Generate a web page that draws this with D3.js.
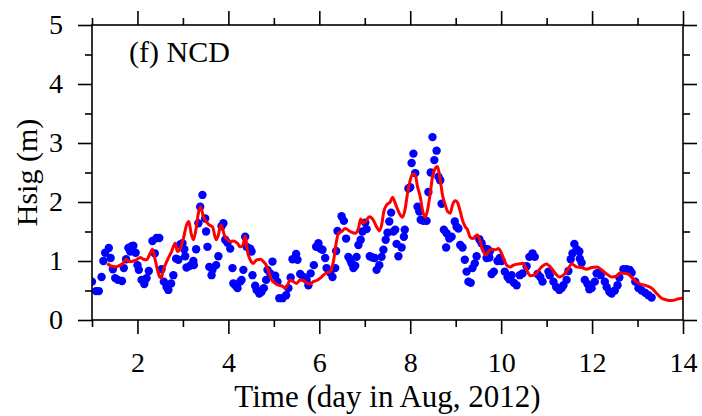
<!DOCTYPE html>
<html>
<head>
<meta charset="utf-8">
<script src="https://cdn.jsdelivr.net/npm/d3@7"></script>
<style>
  body { margin: 0; background: #fff; }
  svg text { font-family: "Liberation Serif", "Times New Roman", serif; fill: #000; }
</style>
</head>
<body>
<svg class="chart"></svg>
<script>
'use strict';

// observed Hsig (blue dots)
var obsDay = [
  1.00, 1.09, 1.15, 1.21, 1.25, 1.29, 1.37, 1.41, 1.46, 1.51, 1.57, 1.66, 1.70, 1.75, 1.80, 1.84,
  1.87, 1.91, 1.96, 2.00, 2.03, 2.09, 2.15, 2.17, 2.20, 2.25, 2.33, 2.38, 2.42, 2.48, 2.53, 2.58,
  2.64, 2.68, 2.74, 2.79, 2.85, 2.90, 2.94, 2.99, 3.03, 3.05, 3.08, 3.16, 3.23, 3.24, 3.29, 3.34,
  3.38, 3.43, 3.49, 3.51, 3.54, 3.58, 3.63, 3.65, 3.73, 3.78, 3.85, 3.89, 3.93, 3.98, 4.04, 4.09,
  4.11, 4.16, 4.20, 4.26, 4.29, 4.33, 4.37, 4.40, 4.48, 4.51, 4.53, 4.59, 4.62, 4.68, 4.73, 4.78,
  4.83, 4.86, 4.92, 4.97, 5.03, 5.08, 5.12, 5.19, 5.27, 5.32, 5.37, 5.41, 5.49, 5.52, 5.58, 5.65,
  5.72, 5.76, 5.81, 5.88, 5.93, 5.98, 6.02, 6.07, 6.13, 6.16, 6.24, 6.29, 6.35, 6.37, 6.40, 6.49,
  6.54, 6.59, 6.64, 6.68, 6.71, 6.75, 6.79, 6.82, 6.86, 6.91, 6.95, 7.01, 7.04, 7.11, 7.17, 7.22,
  7.26, 7.32, 7.37, 7.41, 7.46, 7.50, 7.54, 7.58, 7.63, 7.67, 7.70, 7.74, 7.81, 7.86, 7.88, 7.96,
  8.00, 8.03, 8.07, 8.11, 8.16, 8.20, 8.23, 8.29, 8.36, 8.40, 8.45, 8.49, 8.53, 8.58, 8.62, 8.66,
  8.69, 8.74, 8.79, 8.80, 8.86, 8.91, 8.98, 9.02, 9.06, 9.10, 9.15, 9.20, 9.24, 9.28, 9.33, 9.37,
  9.42, 9.46, 9.52, 9.57, 9.64, 9.68, 9.70, 9.74, 9.75, 9.79, 9.84, 9.92, 9.97, 10.01, 10.08, 10.14,
  10.18, 10.23, 10.28, 10.34, 10.41, 10.47, 10.56, 10.62, 10.69, 10.74, 10.80, 10.86, 10.91, 11.04, 11.07, 11.15,
  11.21, 11.28, 11.33, 11.37, 11.44, 11.48, 11.53, 11.57, 11.61, 11.66, 11.72, 11.73, 11.77, 11.84, 11.90, 11.94,
  11.99, 12.06, 12.10, 12.14, 12.19, 12.28, 12.32, 12.38, 12.43, 12.50, 12.56, 12.60, 12.69, 12.76, 12.83, 12.87,
  12.95, 13.02, 13.09, 13.17, 13.24, 13.31
];
var obsHsig = [
  0.65, 0.49, 0.49, 0.73, 1.00, 1.14, 1.22, 1.05, 0.86, 0.71, 0.68, 0.66, 0.88, 1.03, 1.22, 1.16,
  1.25, 1.26, 1.14, 0.93, 0.85, 0.68, 0.61, 0.68, 0.71, 0.83, 1.34, 1.13, 1.39, 1.39, 0.86, 0.65,
  0.56, 0.51, 0.62, 0.76, 1.04, 1.02, 1.28, 1.30, 1.20, 1.08, 0.89, 0.92, 1.00, 0.93, 1.20, 1.64,
  1.92, 2.12, 1.72, 1.50, 1.24, 0.90, 0.76, 0.85, 0.93, 1.08, 1.59, 1.64, 1.36, 1.31, 1.21, 0.88,
  0.62, 0.58, 0.54, 0.65, 0.68, 0.85, 1.41, 1.24, 1.21, 1.16, 0.76, 0.58, 0.51, 0.45, 0.48, 0.54,
  0.68, 0.85, 0.79, 0.99, 0.75, 0.65, 0.37, 0.37, 0.42, 0.54, 0.72, 1.03, 1.12, 1.02, 0.78, 0.73,
  0.68, 0.59, 0.79, 0.93, 1.24, 1.30, 1.21, 1.19, 1.05, 0.88, 0.80, 0.73, 0.88, 1.17, 1.51, 1.76,
  1.68, 1.38, 1.07, 1.02, 0.96, 0.88, 0.92, 1.07, 1.27, 1.36, 1.50, 1.65, 1.54, 1.08, 1.06, 1.05,
  0.85, 0.93, 1.07, 1.19, 1.36, 1.48, 1.67, 1.82, 1.50, 1.53, 1.29, 1.08, 1.23, 1.41, 1.53, 2.23,
  2.25, 2.66, 2.82, 2.49, 1.92, 1.84, 1.70, 1.68, 1.68, 2.17, 2.50, 3.10, 2.71, 2.87, 2.43, 2.37,
  1.97, 1.53, 1.23, 1.47, 1.38, 1.41, 1.67, 1.58, 1.55, 1.27, 1.23, 1.02, 0.82, 0.65, 0.63, 0.88,
  0.96, 1.08, 1.37, 1.30, 1.21, 1.05, 1.20, 1.06, 1.16, 0.78, 0.82, 1.00, 1.05, 1.00, 0.82, 0.73,
  0.69, 0.76, 0.63, 0.59, 0.76, 0.79, 0.91, 1.07, 1.13, 1.07, 0.78, 0.73, 0.65, 0.82, 0.76, 0.65,
  0.56, 0.51, 0.54, 0.59, 0.68, 0.83, 1.03, 1.13, 1.29, 1.20, 1.16, 1.04, 0.97, 0.68, 0.61, 0.52,
  0.54, 0.65, 0.79, 0.80, 0.76, 0.65, 0.56, 0.48, 0.45, 0.50, 0.59, 0.72, 0.86, 0.86, 0.85, 0.80,
  0.65, 0.54, 0.50, 0.46, 0.42, 0.38
];

// modelled Hsig (red line)
var modelDay = [
  1.34, 1.40, 1.51, 1.62, 1.69, 1.75, 1.82, 1.91, 1.98, 2.06, 2.13, 2.20, 2.28, 2.33, 2.39, 2.46,
  2.52, 2.57, 2.66, 2.75, 2.83, 2.88, 2.94, 3.01, 3.08, 3.13, 3.18, 3.23, 3.29, 3.34, 3.39, 3.45,
  3.51, 3.58, 3.65, 3.73, 3.78, 3.83, 3.87, 3.91, 3.96, 4.04, 4.11, 4.20, 4.26, 4.32, 4.37, 4.42,
  4.48, 4.55, 4.62, 4.70, 4.77, 4.84, 4.90, 4.95, 5.03, 5.10, 5.17, 5.25, 5.30, 5.36, 5.43, 5.50,
  5.58, 5.65, 5.72, 5.80, 5.87, 5.94, 6.02, 6.09, 6.16, 6.24, 6.31, 6.37, 6.42, 6.49, 6.57, 6.68,
  6.79, 6.86, 6.91, 6.97, 7.03, 7.10, 7.19, 7.26, 7.32, 7.37, 7.42, 7.48, 7.56, 7.61, 7.67, 7.70,
  7.78, 7.83, 7.89, 7.94, 8.00, 8.05, 8.11, 8.16, 8.22, 8.27, 8.33, 8.38, 8.44, 8.49, 8.55, 8.60,
  8.66, 8.71, 8.77, 8.82, 8.88, 8.93, 8.99, 9.04, 9.10, 9.15, 9.21, 9.26, 9.32, 9.38, 9.43, 9.48,
  9.54, 9.59, 9.67, 9.72, 9.79, 9.87, 9.94, 9.99, 10.05, 10.12, 10.20, 10.27, 10.38, 10.49, 10.56, 10.64,
  10.76, 10.89, 11.00, 11.08, 11.19, 11.28, 11.37, 11.46, 11.55, 11.66, 11.77, 11.88, 11.99, 12.10, 12.21, 12.32,
  12.43, 12.53, 12.62, 12.70, 12.79, 12.86, 12.97, 13.06, 13.20, 13.31, 13.42, 13.53, 13.64, 13.75, 13.86, 13.97,
  14.00
];
var modelHsig = [
  0.96, 0.92, 0.90, 0.93, 0.97, 1.03, 0.99, 1.00, 1.02, 1.06, 1.03, 1.02, 1.13, 1.20, 1.02, 0.79,
  0.71, 0.85, 1.02, 1.16, 1.30, 1.16, 1.21, 1.38, 1.61, 1.67, 1.47, 1.36, 1.55, 1.81, 1.92, 1.75,
  1.67, 1.61, 1.58, 1.36, 1.44, 1.61, 1.55, 1.44, 1.38, 1.33, 1.34, 1.30, 1.24, 1.27, 1.43, 1.16,
  1.02, 0.96, 1.02, 1.03, 0.99, 0.92, 0.79, 0.68, 0.62, 0.59, 0.58, 0.54, 0.59, 0.68, 0.65, 0.62,
  0.68, 0.67, 0.63, 0.61, 0.65, 0.67, 0.71, 0.76, 0.80, 0.82, 0.99, 1.30, 1.47, 1.50, 1.55, 1.50,
  1.47, 1.55, 1.71, 1.64, 1.68, 1.75, 1.69, 1.58, 1.51, 1.61, 1.84, 1.95, 2.00, 2.08, 1.98, 1.92,
  1.78, 1.74, 1.89, 2.15, 2.37, 2.47, 2.46, 2.26, 2.09, 1.86, 1.74, 1.86, 2.15, 2.43, 2.57, 2.60,
  2.37, 2.12, 1.95, 1.84, 1.81, 1.95, 2.02, 1.99, 1.84, 1.69, 1.58, 1.53, 1.40, 1.38, 1.42, 1.44,
  1.33, 1.19, 1.10, 1.16, 1.20, 1.19, 1.21, 1.16, 1.05, 0.93, 0.90, 0.93, 0.95, 0.96, 0.85, 0.75,
  0.78, 0.90, 0.95, 0.90, 0.79, 0.73, 0.76, 0.85, 0.95, 0.90, 0.89, 0.86, 0.89, 0.90, 0.85, 0.78,
  0.73, 0.745, 0.80, 0.79, 0.78, 0.73, 0.65, 0.61, 0.58, 0.54, 0.45, 0.37, 0.34, 0.33, 0.35, 0.37,
  0.37
];

var xMajor = [2, 4, 6, 8, 10, 12, 14];
var xMinor = [1, 3, 5, 7, 9, 11, 13];
var yMajor = [0, 1, 2, 3, 4, 5];
var yMinor = [0.5, 1.5, 2.5, 3.5, 4.5];

var panelLabel = '(f) NCD';
var xTitle = 'Time (day in Aug, 2012)';
var yTitle = 'Hsig (m)';

(function () {

var W = 702, H = 416;
var MARGIN = { TOP: 25, RIGHT: 19, BOTTOM: 96, LEFT: 92 };
var width = W - MARGIN.LEFT - MARGIN.RIGHT;
var height = H - MARGIN.TOP - MARGIN.BOTTOM;
var MAJOR = 14, MINOR = 7;
var SERIF = '"Liberation Serif", "Times New Roman", serif';

var x = d3.scaleLinear().domain([1, 14]).range([0, width]);
var y = d3.scaleLinear().domain([0, 5]).range([height, 0]);

var svg = d3.select('svg.chart')
    .attr('width', W)
    .attr('height', H);

var g = svg.append('g')
    .attr('transform', 'translate(' + MARGIN.LEFT + ',' + MARGIN.TOP + ')');

g.append('clipPath').attr('id', 'plot-clip')
    .append('rect')
    .attr('width', width)
    .attr('height', height);

var plot = g.append('g').attr('clip-path', 'url(#plot-clip)');

var obs = obsDay.map(function (d, i) { return { day: d, hsig: obsHsig[i] }; });
var model = modelDay.map(function (d, i) { return { day: d, hsig: modelHsig[i] }; });

plot.selectAll('circle.obs')
    .data(obs)
    .enter()
    .append('circle')
    .attr('class', 'obs')
    .attr('cx', function (d) { return x(d.day); })
    .attr('cy', function (d) { return y(d.hsig); })
    .attr('r', 4.2)
    .attr('fill', '#0000ff');

var line = d3.line()
    .x(function (d) { return x(d.day); })
    .y(function (d) { return y(d.hsig); })
    .curve(d3.curveMonotoneX);

plot.append('path')
    .datum(model)
    .attr('d', line)
    .attr('fill', 'none')
    .attr('stroke', '#ff0000')
    .attr('stroke-width', 3)
    .attr('stroke-linejoin', 'round');

// axes: major + minor ticks, all pointing outward
function addAxis(axisFn, scale, values, size, translate, labels) {
    var ax = axisFn(scale)
        .tickValues(values)
        .tickSize(size)
        .tickSizeOuter(0);
    if (labels) {
        ax.tickPadding(labels).tickFormat(d3.format('d'));
    } else {
        ax.tickFormat('');
    }
    var a = g.append('g')
        .attr('transform', translate)
        .call(ax)
        .attr('font-family', SERIF)
        .attr('font-size', 28);
    a.select('.domain').remove();
    a.selectAll('line').attr('stroke', '#000').attr('stroke-width', 1.6);
    a.selectAll('text').attr('font-family', SERIF).style('font-family', SERIF);
    return a;
}

addAxis(d3.axisBottom, x, xMajor, MAJOR, 'translate(0,' + height + ')', 18);
addAxis(d3.axisBottom, x, xMinor, MINOR, 'translate(0,' + height + ')');
addAxis(d3.axisTop, x, xMajor, MAJOR, 'translate(0,0)');
addAxis(d3.axisTop, x, xMinor, MINOR, 'translate(0,0)');
addAxis(d3.axisLeft, y, yMajor, MAJOR, 'translate(0,0)', 15);
addAxis(d3.axisLeft, y, yMinor, MINOR, 'translate(0,0)');
addAxis(d3.axisRight, y, yMajor, MAJOR, 'translate(' + width + ',0)');
addAxis(d3.axisRight, y, yMinor, MINOR, 'translate(' + width + ',0)');

g.append('rect')
    .attr('width', width)
    .attr('height', height)
    .attr('fill', 'none')
    .attr('stroke', '#000')
    .attr('stroke-width', 1.6);

g.append('text')
    .attr('x', 37)
    .attr('y', 37)
    .style('font-size', '30px')
    .text(panelLabel);

g.append('text')
    .attr('x', width / 2)
    .attr('y', height + 87)
    .attr('text-anchor', 'middle')
    .style('font-size', '31px')
    .text(xTitle);

svg.append('text')
    .attr('transform', 'translate(37,' + (MARGIN.TOP + height / 2) + ') rotate(-90)')
    .attr('text-anchor', 'middle')
    .style('font-size', '30px')
    .text(yTitle);

})();
</script>
</body>
</html>
